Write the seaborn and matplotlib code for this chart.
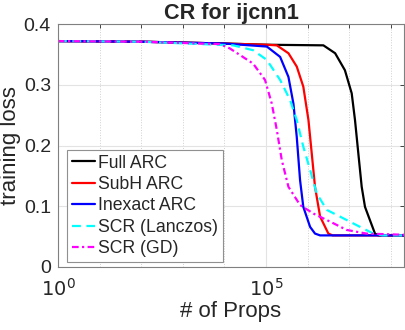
import numpy as np
import pandas as pd
import matplotlib
matplotlib.use("Agg")
import matplotlib.pyplot as plt
from matplotlib.ticker import FixedLocator, NullFormatter
import seaborn as sns

# data (x = # of props, y = training loss)
full_x = [1, 1e2, 1e4, 1e5, 2.4e6, 4.6e6, 7.9e6, 1.15e7, 1.38e7, 1.66e7, 2.0e7, 2.4e7, 3.16e7, 4.17e7, 5.0e7, 2.1e8]
full_y = [0.372, 0.371, 0.368, 0.366, 0.365, 0.352, 0.324, 0.286, 0.242, 0.187, 0.132, 0.099, 0.077, 0.055, 0.052, 0.052]

subh_x = [1, 1e2, 1e4, 1e5, 1.82e5, 3.47e5, 5.5e5, 7.9e5, 1.05e6, 1.26e6, 1.51e6, 2.0e6, 3.16e6, 4.0e6, 2.1e8]
subh_y = [0.372, 0.371, 0.368, 0.366, 0.365, 0.352, 0.33, 0.297, 0.242, 0.187, 0.132, 0.083, 0.055, 0.052, 0.052]

inex_x = [1, 1e2, 1e4, 1.05e5, 2.19e5, 3.47e5, 4.57e5, 5.5e5, 6.6e5, 7.9e5, 1.15e6, 1.51e6, 2.0e6, 2.1e8]
inex_y = [0.372, 0.371, 0.368, 0.363, 0.346, 0.313, 0.269, 0.214, 0.143, 0.099, 0.066, 0.055, 0.052, 0.052]

lanc_x = [1, 1e2, 1.62e4, 4.9e4, 1.05e5, 2.19e5, 3.8e5, 5.5e5, 7.9e5, 1.15e6, 1.66e6, 2.9e6, 6.0e6, 1.5e7, 3.8e7, 6.3e7, 2.1e8]
lanc_y = [0.372, 0.371, 0.365, 0.357, 0.341, 0.308, 0.275, 0.242, 0.198, 0.16, 0.121, 0.094, 0.083, 0.069, 0.055, 0.052, 0.052]

gd_x = [1, 1e2, 7.8e3, 1.35e4, 4.9e4, 9.5e4, 1.38e5, 1.82e5, 2.4e5, 3.47e5, 6.6e5, 1.38e6, 4.17e6, 8.7e6, 2.6e7, 2.1e8]
gd_y = [0.372, 0.371, 0.367, 0.36, 0.335, 0.308, 0.269, 0.226, 0.176, 0.132, 0.102, 0.088, 0.072, 0.061, 0.055, 0.053]

labels = ["Full ARC", "SubH ARC", "Inexact ARC", "SCR (Lanczos)", "SCR (GD)"]
colors = ["black", "red", "blue", "cyan", "magenta"]
styles = ["-", "-", "-", (0, (4, 2.5)), (0, (3, 1.5, 1, 1.5))]

sns.set_style("white")
plt.rcParams["font.family"] = ["Liberation Sans", "DejaVu Sans"]

fig = plt.figure(figsize=(4.05, 3.3), dpi=100)
ax = fig.add_axes([0.143, 0.191, 0.855, 0.736])

series = [(full_x, full_y), (subh_x, subh_y), (inex_x, inex_y), (lanc_x, lanc_y), (gd_x, gd_y)]
for (xs, ys), lab, c, ls in zip(series, labels, colors, styles):
    df = pd.DataFrame({"x": xs, "y": ys})
    sns.lineplot(data=df, x="x", y="y", ax=ax, color=c, linestyle=ls, linewidth=1.6,
                 label=lab, sort=False, estimator=None)

ax.set_xscale("log")
ax.set_xlim(1, 2.1e8)
ax.set_ylim(0, 0.4)
ax.xaxis.set_major_locator(FixedLocator([1, 1e5]))
ax.xaxis.set_minor_locator(FixedLocator([10.0 ** k for k in range(1, 9) if k != 5]))
ax.xaxis.set_minor_formatter(NullFormatter())
ax.set_xticklabels([r"$10^0$", r"$10^5$"])
ax.set_yticks([0, 0.1, 0.2, 0.3, 0.4])
ax.set_yticklabels(["0", "0.1", "0.2", "0.3", "0.4"])

ax.grid(True, which="major", color="#e3e3e3", linewidth=0.8)
ax.grid(True, which="minor", axis="x", color="#d0d0d0", linewidth=0.7, linestyle=":")
ax.set_axisbelow(True)

ax.tick_params(which="both", direction="in", top=True, right=True, colors="#262626",
               labelsize=14, length=3, width=0.6)
ax.tick_params(axis="x", pad=8)
ax.tick_params(axis="y", pad=5)
for s in ax.spines.values():
    s.set_color("#808080")
    s.set_linewidth(0.8)

ax.set_xlabel("# of Props", fontsize=16, color="#262626", labelpad=1)
ax.set_ylabel("training loss", fontsize=16, color="#262626", labelpad=2)
ax.set_title("CR for ijcnn1", fontsize=15.6, fontweight="bold", pad=4)

leg = ax.legend(loc="upper left", bbox_to_anchor=(0.027, 0.481), fontsize=12.7,
                frameon=True, fancybox=False, framealpha=1, edgecolor="#909090",
                handlelength=1.3, handletextpad=0.2, labelspacing=0.25, borderpad=0.25,
                borderaxespad=0)
leg.get_frame().set_linewidth(0.8)

fig.savefig("out.png", dpi=100)
